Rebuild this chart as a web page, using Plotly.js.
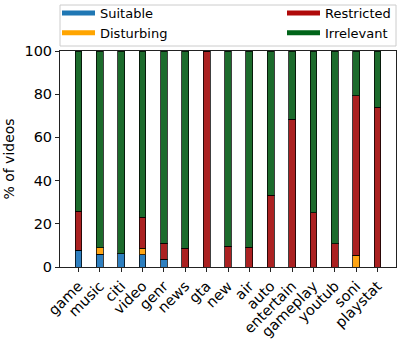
<!DOCTYPE html>
<html>
<head>
<meta charset="utf-8">
<script src="https://cdn.plot.ly/plotly-3.0.1.min.js"></script>
<style>html,body{margin:0;padding:0;background:#fff;}#chart{width:407px;height:340px;}</style>
</head>
<body>
<div id="chart"></div>
<script>
const categories = ['game','music','citi','video','genr','news','gta','new','air','auto','entertain','gameplay','youtub','soni','playstat'];
const suitable   = [7.7, 6.0, 6.1, 5.7, 3.7, 0, 0, 0, 0, 0, 0, 0, 0, 0, 0];
const disturbing = [0, 3.0, 0, 2.9, 0, 0, 0, 0, 0, 0, 0, 0, 0, 5.4, 0];
const restricted = [18.0, 0, 0, 14.5, 7.2, 8.6, 100, 9.7, 9.2, 33.2, 68.3, 25.2, 10.8, 74.0, 73.9];
const irrelevant = [74.3, 91.0, 93.9, 76.9, 89.1, 91.4, 0, 90.3, 90.8, 66.8, 31.7, 74.8, 89.2, 20.6, 26.1];
const seriesNames = ['Suitable','Disturbing','Restricted','Irrelevant'];

const barColors = ['#2e7fbf', '#ffa514', '#ab2121', '#1c6b2c'];
const legendColors = ['#1f77b4', '#ffa500', '#b00a0a', '#006419'];
const values = [suitable, disturbing, restricted, irrelevant];
const legendIds = ['legend', 'legend', 'legend2', 'legend2'];

const font = {family: 'DejaVu Sans', size: 14, color: '#000'};
const tickFont = {family: 'DejaVu Sans', size: 14.5, color: '#000'};
const legendFont = {family: 'DejaVu Sans', size: 13, color: '#000'};
const traces = [];
values.forEach((v, i) => {
  traces.push({
    type: 'bar', x: categories, y: v, name: seriesNames[i], showlegend: false,
    width: 0.32,
    marker: {color: barColors[i], line: {color: 'rgba(0,0,0,0.75)', width: 1}},
    hoverinfo: 'skip'
  });
});
values.forEach((v, i) => {
  traces.push({
    type: 'scatter', mode: 'lines', x: [null], y: [null], name: seriesNames[i],
    legend: legendIds[i], showlegend: true,
    line: {color: legendColors[i], width: 5}, hoverinfo: 'skip'
  });
});

const plotH = 340 - 51 - 73;
const plotW = 407 - 60 - 11;
const layout = {
  width: 407, height: 340,
  margin: {l: 60, r: 11, t: 51, b: 73, pad: 0, autoexpand: false},
  paper_bgcolor: '#fff', plot_bgcolor: '#fff',
  font: font,
  barmode: 'stack',
  showlegend: true,
  xaxis: {
    type: 'category', categoryorder: 'array', categoryarray: categories,
    range: [-0.865, 14.865], tickangle: -45,
    showline: true, mirror: true, linecolor: '#222', linewidth: 1,
    ticks: 'outside', ticklen: 4, tickcolor: '#222', tickwidth: 1,
    showgrid: false, zeroline: false, fixedrange: true, automargin: false,
    tickfont: tickFont
  },
  yaxis: {
    range: [0, 100], tickvals: [0, 20, 40, 60, 80, 100],
    showline: true, mirror: true, linecolor: '#222', linewidth: 1,
    ticks: 'outside', ticklen: 4, tickcolor: '#222', tickwidth: 1,
    showgrid: false, zeroline: false, fixedrange: true, automargin: false,
    tickfont: tickFont,
    title: {text: '% of videos', font: font, standoff: 6}
  },
  legend: {
    x: -3/plotW, xanchor: 'left', y: 1 + 53/plotH, yanchor: 'top',
    bgcolor: 'rgba(0,0,0,0)', borderwidth: 0, font: legendFont,
    itemwidth: 33, tracegroupgap: 0, traceorder: 'normal'
  },
  legend2: {
    x: 1, xanchor: 'right', y: 1 + 53/plotH, yanchor: 'top',
    bgcolor: 'rgba(0,0,0,0)', borderwidth: 0, font: legendFont,
    itemwidth: 33, tracegroupgap: 0, traceorder: 'normal'
  },
  shapes: [{
    type: 'rect', xref: 'paper', yref: 'paper',
    x0: 0, x1: 1, y0: 1 + 5/plotH, y1: 1 + 46/plotH,
    line: {color: '#cccccc', width: 1}, fillcolor: 'rgba(255,255,255,0.8)', layer: 'below'
  }]
};
Plotly.newPlot('chart', traces, layout, {displayModeBar: false, staticPlot: true});
</script>
</body>
</html>
